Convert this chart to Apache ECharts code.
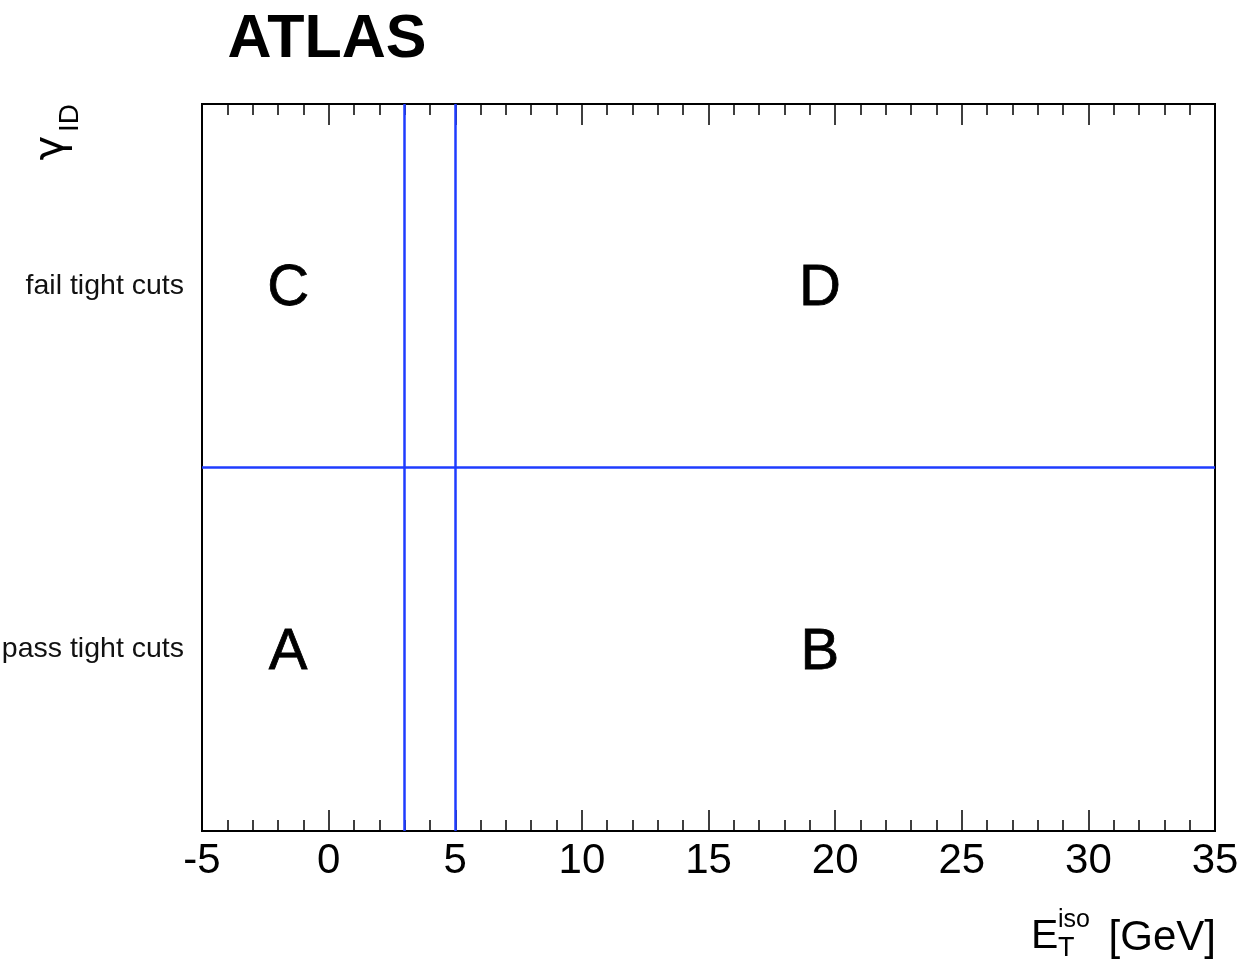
<!DOCTYPE html>
<html>
<head>
<meta charset="utf-8">
<script src="https://cdn.jsdelivr.net/npm/echarts@6/dist/echarts.min.js"></script>
<style>html,body{margin:0;padding:0;background:#fff}#c{width:1246px;height:963px}</style>
</head>
<body>
<div id="c"></div>
<script>
// ---- data ----
const xMin = -5, xMax = 35, xInterval = 5;
const yCategories = ['pass tight cuts', 'fail tight cuts'];
const yCategoryPos = [0.5, 1.5];
const regionLabels = ['A', 'B', 'C', 'D'];
const regionX = [-1.6, 19.4, -1.6, 19.4];
const regionY = [0.49, 0.49, 1.49, 1.49];
const cutX = [3, 5];
const cutY = [1];

const FONT = '"Liberation Sans", Arial, Helvetica, sans-serif';
const BLUE = '#1f3cff';

const chart = echarts.init(document.getElementById('c'), null, {renderer: 'canvas'});

const scatterData = regionLabels.map((l, i) => ({value: [regionX[i], regionY[i]], name: l}));
const markData = cutX.map(v => ({xAxis: v})).concat(cutY.map(v => ({yAxis: v})));

const xAxisCommon = {
  type: 'value', min: xMin, max: xMax, interval: xInterval,
  axisLine: {show: true, onZero: false, lineStyle: {color: '#000', width: 2}},
  axisTick: {show: true, inside: true, length: 21, lineStyle: {color: '#000', width: 1.5}},
  minorTick: {show: true, splitNumber: 5, length: 11, lineStyle: {color: '#000', width: 1.5}},
  splitLine: {show: false}, minorSplitLine: {show: false}
};

chart.setOption({
  animation: false,
  backgroundColor: '#fff',
  grid: {left: 202, right: 31, top: 104, bottom: 132, containLabel: false, outerBoundsMode: 'none',
         show: true, borderColor: '#000', borderWidth: 2, backgroundColor: 'transparent'},
  xAxis: [
    Object.assign({}, xAxisCommon, {
      position: 'bottom',
      axisLabel: {show: true, color: '#000', fontSize: 42, fontFamily: FONT, margin: 9, showMinLabel: true, showMaxLabel: true}
    }),
    Object.assign({}, xAxisCommon, {
      position: 'top',
      axisLabel: {show: false}
    })
  ],
  yAxis: [{
    type: 'value', min: 0, max: 2, interval: 0.5,
    axisLine: {show: true, onZero: false, lineStyle: {color: '#000', width: 2}},
    axisTick: {show: false},
    splitLine: {show: false},
    axisLabel: {
      show: true, color: '#111', fontSize: 28.5, fontFamily: FONT, margin: 18,
      formatter: v => {
        const i = yCategoryPos.indexOf(v);
        return i >= 0 ? yCategories[i] : '';
      }
    }
  }],
  series: [{
    type: 'scatter',
    xAxisIndex: 0, yAxisIndex: 0,
    symbolSize: 0,
    itemStyle: {color: '#000'},
    data: scatterData,
    label: {show: true, position: 'inside', formatter: p => p.name, color: '#000', opacity: 1, fontSize: 58, fontFamily: FONT, textBorderColor: '#000', textBorderWidth: 0.8},
    silent: true,
    markLine: {
      silent: true, symbol: ['none', 'none'],
      label: {show: false},
      lineStyle: {color: BLUE, width: 2.5, type: 'solid'},
      emphasis: {disabled: true},
      data: markData
    }
  }],
  graphic: [
    {type: 'text', x: 327, y: 40, style: {text: 'ATLAS', font: 'bold 61px ' + FONT, fill: '#000', align: 'center', verticalAlign: 'middle'}},
    // y-axis title: gamma_ID rotated
    {type: 'text', x: 52, y: 148, rotation: Math.PI / 2, style: {text: 'γ', font: '42px "DejaVu Sans", sans-serif', fill: '#000', align: 'center', verticalAlign: 'middle'}},
    {type: 'text', x: 70, y: 118, rotation: Math.PI / 2, style: {text: 'ID', font: '28px ' + FONT, fill: '#000', align: 'center', verticalAlign: 'middle'}},
    // x-axis title: E_T^iso [GeV]
    {type: 'text', x: 1031, y: 937, style: {text: 'E', font: '41px ' + FONT, fill: '#000', align: 'left', verticalAlign: 'middle'}},
    {type: 'text', x: 1058, y: 920, style: {text: 'iso', font: '25px ' + FONT, fill: '#000', align: 'left', verticalAlign: 'middle'}},
    {type: 'text', x: 1058, y: 949, style: {text: 'T', font: '27px ' + FONT, fill: '#000', align: 'left', verticalAlign: 'middle'}},
    {type: 'text', x: 1216, y: 938, style: {text: '[GeV]', font: '42px ' + FONT, fill: '#000', align: 'right', verticalAlign: 'middle'}}
  ]
});
</script>
</body>
</html>
